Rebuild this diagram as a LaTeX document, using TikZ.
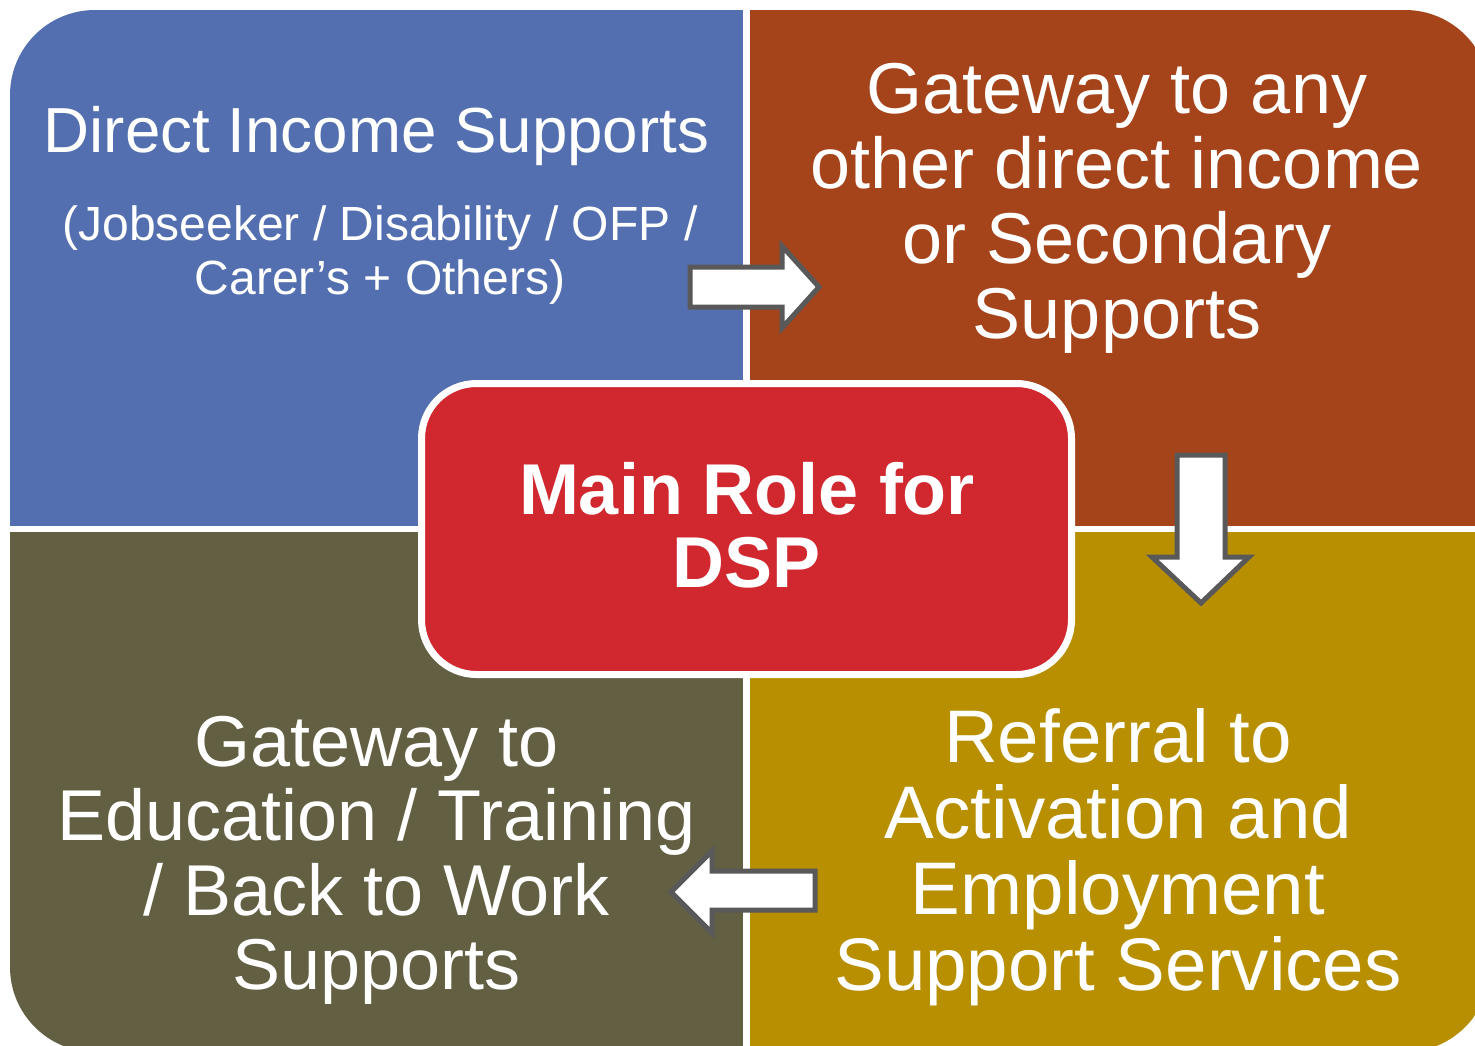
\documentclass[tikz,border=0pt]{standalone}
\usepackage{fontspec}
\setmainfont{Liberation Sans}
\definecolor{qblue}{HTML}{536FAF}
\definecolor{qbrown}{HTML}{A5441B}
\definecolor{qolive}{HTML}{625F42}
\definecolor{qgold}{HTML}{B78F00}
\definecolor{qred}{HTML}{D0282E}
\definecolor{agray}{HTML}{595959}
\tikzset{
  bigtext/.style={text=white, inner sep=0pt, align=center, anchor=north,
    font=\fontsize{72}{75}\selectfont},
  blockarrow/.style={fill=white, draw=agray, line width=5pt, line join=miter},
}
\begin{document}
\begin{tikzpicture}[x=1pt, y=-1pt]
\useasboundingbox (0,0) rectangle (1475,1045);
\fill[white] (0,0) rectangle (1475,1045);
% quadrants clipped to one rounded outline
\begin{scope}
  \clip[rounded corners=85pt] (10,10) rectangle (1490,1052);
  \fill[qblue]  (0,0)   rectangle (743,526);
  \fill[qbrown] (750,0) rectangle (1500,526);
  \fill[qolive] (0,532) rectangle (743,1060);
  \fill[qgold]  (750,532) rectangle (1500,1060);
\end{scope}
% block arrows
\draw[blockarrow] (690,267) -- (782,267) -- (782,246) -- (819,287) -- (782,328) -- (782,307) -- (690,307) -- cycle;
\draw[blockarrow] (1177,455) -- (1225,455) -- (1225,557) -- (1249,557) -- (1201,603) -- (1152,557) -- (1177,557) -- cycle;
\draw[blockarrow] (815,871) -- (712,871) -- (712,851) -- (671,892) -- (712,933) -- (712,910) -- (815,910) -- cycle;
% centre box
\draw[fill=qred, draw=white, line width=7pt, rounded corners=55pt] (421.5,383.5) rectangle (1071.5,674.5);
% texts
\node[text=white, inner sep=0pt, anchor=base, font=\fontsize{63.7}{70}\selectfont] (dis) at (376.5,152) {Direct Income Supports};
\node[text=white, inner sep=0pt, align=center, anchor=north, font=\fontsize{48}{53.5}\selectfont] (sub) at (380,206) {(Jobseeker / Disability / OFP /\\Carer’s + Others)};
\node[bigtext] (gw) at (1117,63) {Gateway to any\\other direct income\\or Secondary\\Supports};
\node[bigtext, font=\bfseries\fontsize{72}{73}\selectfont] (main) at (747,462) {Main Role for\\DSP};
\node[bigtext, font=\fontsize{72}{74.5}\selectfont] (edu) at (376.5,716) {Gateway to\\Education / Training\\/ Back to Work\\Supports};
\node[bigtext, font=\fontsize{74.5}{76}\selectfont] (ref) at (1118,708) {Referral to\\Activation and\\Employment\\Support Services};
\end{tikzpicture}
\end{document}
